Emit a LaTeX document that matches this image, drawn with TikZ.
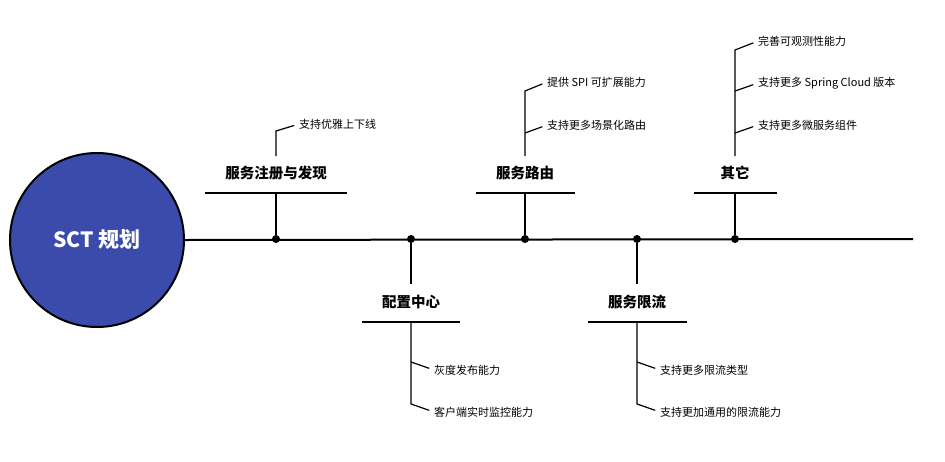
\documentclass[tikz,border=0pt]{standalone}
\usepackage{fontspec}
\setmainfont{Noto Sans CJK SC}
\begin{document}
\begin{tikzpicture}[x=1pt,y=-1pt,
  ln/.style={line width=2pt,black},
  thin/.style={line width=1.2pt,black,shorten >=5pt},
  head/.style={font=\fontsize{14.5}{14.5}\selectfont\bfseries},
  leaf/.style={font=\fontsize{11}{11}\selectfont,anchor=west,inner sep=0pt},
  dot/.style={circle,fill=black,inner sep=0pt,minimum size=8pt}]
\useasboundingbox (0,0) rectangle (945,461);
\node[circle,draw=black,line width=2pt,fill={rgb,255:red,59;green,75;blue,171},minimum size=174pt,text=white,font=\fontsize{21}{21}\selectfont\bfseries] (c) at (97,240) {SCT 规划};
\coordinate (e) at (913,239);
\draw[ln] (c.east) -- (e);
\node[dot] (d1) at (276,239) {};
\node[dot] (d2) at (411,239) {};
\node[dot] (d3) at (525,239) {};
\node[dot] (d4) at (637,239) {};
\node[dot] (d5) at (735,239) {};
\node[head] (h1) at (276,173) {服务注册与发现};
\node[head] (h3) at (525,173) {服务路由};
\node[head] (h5) at (735,173) {其它};
\draw[ln] (205,193) -- (347,193); \draw[ln] (d1) -- (276,193);
\draw[ln] (476,193) -- (575,193); \draw[ln] (d3) -- (525,193);
\draw[ln] (694,193) -- (777,193); \draw[ln] (d5) -- (735,193);
\node[head] (h2) at (411,302) {配置中心};
\node[head] (h4) at (637,302) {服务限流};
\draw[ln] (d2) -- (411,284); \draw[ln] (362,322) -- (460,322);
\draw[ln] (d4) -- (637,284); \draw[ln] (588,322) -- (687,322);
\node[leaf] (l1) at (299,124) {支持优雅上下线};
\draw[thin] (276,156) -- (276,131) -- (l1.west);
\node[leaf] (l3a) at (547,82) {提供 SPI 可扩展能力};
\node[leaf] (l3b) at (547,125) {支持更多场景化路由};
\draw[thin] (525,156) -- (525,91) -- (l3a.west);
\draw[thin] (525,133) -- (l3b.west);
\node[leaf] (l5a) at (758,41) {完善可观测性能力};
\node[leaf] (l5b) at (758,83) {支持更多 Spring Cloud 版本};
\node[leaf] (l5c) at (758,125) {支持更多微服务组件};
\draw[thin] (735,156) -- (735,50) -- (l5a.west);
\draw[thin] (735,91) -- (l5b.west);
\draw[thin] (735,133) -- (l5c.west);
\node[leaf] (l2a) at (434,370) {灰度发布能力};
\node[leaf] (l2b) at (434,412) {客户端实时监控能力};
\draw[thin] (411,322) -- (411,404) -- (l2b.west);
\draw[thin] (411,362) -- (l2a.west);
\node[leaf] (l4a) at (660,370) {支持更多限流类型};
\node[leaf] (l4b) at (660,412) {支持更加通用的限流能力};
\draw[thin] (637,322) -- (637,404) -- (l4b.west);
\draw[thin] (637,362) -- (l4a.west);
\end{tikzpicture}
\end{document}
